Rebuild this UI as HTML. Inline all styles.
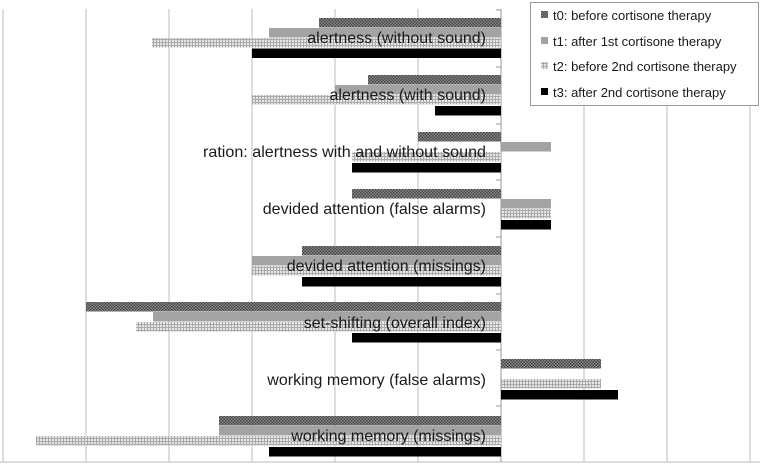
<!DOCTYPE html>
<html><head><style>
html,body{margin:0;padding:0;background:#fff;}
svg{display:block;font-family:"Liberation Sans","DejaVu Sans",sans-serif;}
</style></head><body>
<svg width="760" height="469" viewBox="0 0 760 469" xmlns="http://www.w3.org/2000/svg">
<defs>
<pattern id="p0" width="3" height="3" patternUnits="userSpaceOnUse">
<rect width="3" height="3" fill="#8a8a8a"/><rect width="1.5" height="1.5" fill="#444"/><rect x="1.5" y="1.5" width="1.5" height="1.5" fill="#444"/>
</pattern>
<pattern id="p2" width="3" height="3" patternUnits="userSpaceOnUse">
<rect width="3" height="3" fill="#e6e6e6"/><rect width="3" height="1" fill="#aaa"/><rect width="1" height="3" fill="#aaa"/>
</pattern>
</defs>
<g stroke="#c8c8c8" stroke-width="1.2">
<line x1="3" y1="9" x2="3" y2="462"/><line x1="86" y1="9" x2="86" y2="462"/><line x1="169" y1="9" x2="169" y2="462"/>
<line x1="252" y1="9" x2="252" y2="462"/><line x1="335" y1="9" x2="335" y2="462"/><line x1="418" y1="9" x2="418" y2="462"/>
<line x1="584" y1="9" x2="584" y2="462"/><line x1="667" y1="9" x2="667" y2="462"/><line x1="750" y1="9" x2="750" y2="462"/>
<line x1="0" y1="462" x2="760" y2="462"/>
</g>
<g stroke="#999" stroke-width="1">
<line x1="501" y1="9" x2="501" y2="462"/>
<line x1="496" y1="10" x2="501" y2="10"/><line x1="496" y1="67" x2="501" y2="67"/><line x1="496" y1="124" x2="501" y2="124"/>
<line x1="496" y1="180" x2="501" y2="180"/><line x1="496" y1="237" x2="501" y2="237"/><line x1="496" y1="294" x2="501" y2="294"/>
<line x1="496" y1="350" x2="501" y2="350"/><line x1="496" y1="406" x2="501" y2="406"/>
</g>
<rect x="319" y="18" width="182" height="9.5" fill="url(#p0)"/>
<rect x="269" y="28" width="232" height="9.5" fill="#a3a3a3"/>
<rect x="152" y="38" width="349" height="9.5" fill="url(#p2)"/>
<rect x="252" y="48.5" width="249" height="9.5" fill="#000"/>
<rect x="368" y="75" width="133" height="9.5" fill="url(#p0)"/>
<rect x="335" y="85" width="166" height="9.5" fill="#a3a3a3"/>
<rect x="252" y="95" width="249" height="9.5" fill="url(#p2)"/>
<rect x="435" y="106" width="66" height="9.5" fill="#000"/>
<rect x="418" y="132" width="83" height="9.5" fill="url(#p0)"/>
<rect x="501" y="142" width="50" height="9.5" fill="#a3a3a3"/>
<rect x="352" y="152" width="149" height="9.5" fill="url(#p2)"/>
<rect x="352" y="163" width="149" height="9.5" fill="#000"/>
<rect x="352" y="189" width="149" height="9.5" fill="url(#p0)"/>
<rect x="501" y="199" width="50" height="9.5" fill="#a3a3a3"/>
<rect x="501" y="209" width="50" height="9.5" fill="url(#p2)"/>
<rect x="501" y="220" width="50" height="9.5" fill="#000"/>
<rect x="302" y="246" width="199" height="9.5" fill="url(#p0)"/>
<rect x="252" y="256" width="249" height="9.5" fill="#a3a3a3"/>
<rect x="252" y="266" width="249" height="9.5" fill="url(#p2)"/>
<rect x="302" y="277" width="199" height="9.5" fill="#000"/>
<rect x="86" y="302" width="415" height="9.5" fill="url(#p0)"/>
<rect x="153" y="312" width="348" height="9.5" fill="#a3a3a3"/>
<rect x="136" y="322" width="365" height="9.5" fill="url(#p2)"/>
<rect x="352" y="333" width="149" height="9.5" fill="#000"/>
<rect x="501" y="359" width="100" height="9.5" fill="url(#p0)"/>
<rect x="501" y="379" width="100" height="9.5" fill="url(#p2)"/>
<rect x="501" y="390" width="117" height="9.5" fill="#000"/>
<rect x="219" y="416" width="282" height="9.5" fill="url(#p0)"/>
<rect x="219" y="426" width="282" height="9.5" fill="#a3a3a3"/>
<rect x="36" y="436" width="465" height="9.5" fill="url(#p2)"/>
<rect x="269" y="447" width="232" height="9.5" fill="#000"/>
<g font-size="16" fill="#1a1a1a" text-anchor="end">
<text x="486" y="43">alertness (without sound)</text>
<text x="486" y="100">alertness (with sound)</text>
<text x="486" y="157" textLength="283" lengthAdjust="spacingAndGlyphs">ration: alertness with and without sound</text>
<text x="486" y="214">devided attention (false alarms)</text>
<text x="486" y="271">devided attention (missings)</text>
<text x="486" y="328">set-shifting (overall index)</text>
<text x="486" y="385">working memory (false alarms)</text>
<text x="486" y="441">working memory (missings)</text>
</g>
<rect x="530.5" y="2.5" width="228" height="103" fill="#fff" stroke="#999"/>
<rect x="541" y="11" width="7" height="7" fill="url(#p0)"/>
<rect x="541" y="37" width="7" height="7" fill="#a3a3a3"/>
<rect x="541" y="62" width="7" height="7" fill="url(#p2)"/>
<rect x="541" y="88" width="7" height="7" fill="#000"/>
<g font-size="13" fill="#1a1a1a">
<text x="553" y="20">t0: before cortisone therapy</text>
<text x="553" y="46">t1: after 1st cortisone therapy</text>
<text x="553" y="71">t2: before 2nd cortisone therapy</text>
<text x="553" y="97">t3: after 2nd cortisone therapy</text>
</g>
</svg>
</body></html>
